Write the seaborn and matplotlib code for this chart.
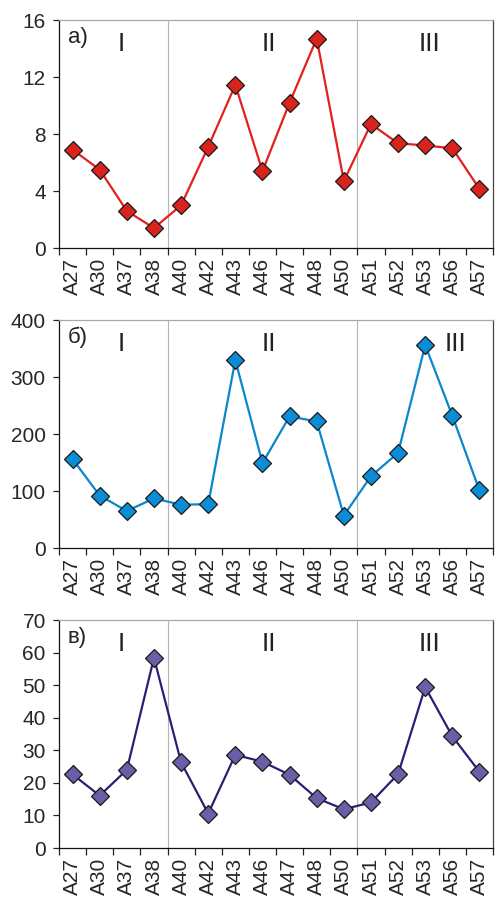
import matplotlib
matplotlib.use("Agg")
import matplotlib.pyplot as plt
import seaborn as sns
import pandas as pd

sns.set_style("white")
plt.rcParams["font.family"] = ["Liberation Sans", "DejaVu Sans"]

# samples along the profile
samples = ["A27", "A30", "A37", "A38", "A40", "A42", "A43", "A46",
           "A47", "A48", "A50", "A51", "A52", "A53", "A56", "A57"]

# panel a)
vals_a = [6.9, 5.5, 2.6, 1.4, 3.0, 7.1, 11.45, 5.4,
          10.2, 14.7, 4.7, 8.7, 7.35, 7.2, 7.0, 4.15]
# panel б)
vals_b = [156, 92, 65, 87, 76, 77, 330, 149,
          231, 222, 57, 126, 167, 356, 232, 101]
# panel в)
vals_c = [22.6, 16.1, 24.0, 58.4, 26.3, 10.6, 28.6, 26.5,
          22.5, 15.3, 11.9, 14.0, 22.7, 49.4, 34.3, 23.4]

panel_labels = ["а)", "б)", "в)"]
zone_labels = ["I", "II", "III"]
# where the zone names sit, per panel
zone_x = [[1.8, 7.25, 13.15], [1.8, 7.25, 14.1], [1.8, 7.25, 13.15]]
boundaries = [3.5, 10.5]

y_max = [16, 400, 70]
y_step = [4, 100, 10]
line_colors = ["#E3201E", "#0C86CA", "#2A1F74"]
face_colors = ["#D8241C", "#0A8DD6", "#6A5EA8"]
all_vals = [vals_a, vals_b, vals_c]

fig = plt.figure(figsize=(4.96, 8.99), dpi=100)
bottoms = [0.7241, 0.3904, 0.0567]

for i in range(3):
    ax = fig.add_axes([0.119, bottoms[i], 0.875, 0.2536])
    df = pd.DataFrame({"sample": samples, "value": all_vals[i]})
    df["pos"] = range(len(samples))

    for b in boundaries:
        ax.axvline(b, color="#B4B4B4", lw=0.8, zorder=1)

    sns.lineplot(data=df, x="pos", y="value", ax=ax, sort=False,
                 color=line_colors[i], lw=1.6, marker="D", markersize=9.5,
                 markerfacecolor=face_colors[i], markeredgecolor="#1a1a1a",
                 markeredgewidth=0.9, zorder=3)

    ax.set_xlim(-0.5, len(samples) - 0.5)
    ax.set_ylim(0, y_max[i])
    ax.set_yticks(range(0, y_max[i] + 1, y_step[i]))
    ax.set_xticks(range(len(samples)))
    ax.set_xticklabels(samples, rotation=90, fontsize=15)
    ax.set_xticks([k - 0.5 for k in range(len(samples) + 1)], minor=True)
    ax.tick_params(axis="x", which="major", length=0, pad=7)
    ax.tick_params(axis="x", which="minor", length=5, width=0.9,
                   direction="out", bottom=True, color="#222222")
    ax.tick_params(axis="y", length=4.5, width=0.9, direction="out",
                   left=True, labelsize=15, pad=5, color="#222222")
    ax.set_xlabel("")
    ax.set_ylabel("")

    ax.spines["left"].set_color("#111111")
    ax.spines["bottom"].set_color("#111111")
    ax.spines["top"].set_color("#A8A8A8")
    ax.spines["right"].set_color("#444444")
    for s in ax.spines.values():
        s.set_linewidth(0.9)

    ax.text(0.02, 0.925, panel_labels[i], transform=ax.transAxes,
            fontsize=16, va="center", ha="left", color="#222222")
    for zx, zl in zip(zone_x[i], zone_labels):
        ax.text(zx, y_max[i] * 0.895, zl, fontsize=19, ha="center",
                va="center", color="#222222")

fig.savefig("out.png", dpi=100)
